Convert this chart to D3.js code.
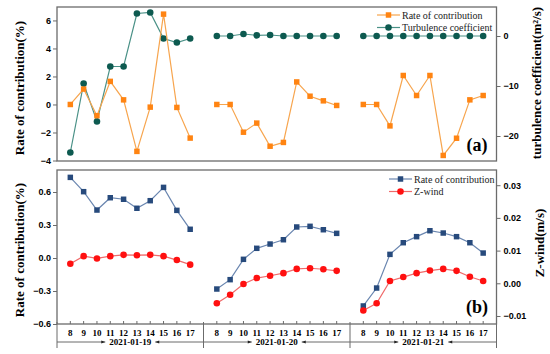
<!DOCTYPE html>
<html>
<head>
<meta charset="utf-8">
<script src="https://cdn.jsdelivr.net/npm/d3@7"></script>
<style>
  body { margin: 0; background: #fff; }
  svg { display: block; font-family: "Liberation Serif", "Times New Roman", serif; }
  .tick text { font-weight: bold; font-size: 9px; }
</style>
</head>
<body>
<svg id="chart" width="550" height="354"></svg>
<script>
// Categories
var hours = [8, 9, 10, 11, 12, 13, 14, 15, 16, 17];
var dates = ['2021-01-19', '2021-01-20', '2021-01-21'];

// Panel (a): rate of contribution (%), one array per day
var rateA19 = [0, 1.1, -0.8, 1.65, 0.33, -3.35, -0.19, 6.45, -0.21, -2.4];
var rateA20 = [0, 0, -1.98, -1.33, -2.98, -2.71, 1.61, 0.59, 0.26, -0.07];
var rateA21 = [0, 0, -1.53, 2.07, 0.64, 2.07, -3.64, -2.41, 0.33, 0.64];

// Panel (a): turbulence coefficient (m2/s)
var turb19 = [-23.3, -9.5, -17.1, -6.1, -6.1, 4.5, 4.7, -0.5, -1.3, -0.5];
var turb20 = [0, 0, 0.4, 0.13, 0.2, 0, 0, 0, 0, 0];
var turb21 = [0, 0, 0, 0, 0, 0, 0, 0, 0, 0];

// Panel (b): rate of contribution (%)
var rateB19 = [0.733, 0.603, 0.436, 0.548, 0.534, 0.452, 0.521, 0.642, 0.433, 0.261];
var rateB20 = [-0.282, -0.197, -0.012, 0.088, 0.127, 0.166, 0.282, 0.288, 0.257, 0.224];
var rateB21 = [-0.436, -0.273, 0.033, 0.139, 0.194, 0.248, 0.227, 0.194, 0.139, 0.045];

// Panel (b): Z-wind (m/s)
var zwind19 = [0.0060, 0.0083, 0.0076, 0.0083, 0.0087, 0.0086, 0.0087, 0.0083, 0.0071, 0.0057];
var zwind20 = [-0.0061, -0.0035, -0.0002, 0.0016, 0.0023, 0.0031, 0.0044, 0.0046, 0.0043, 0.0038];
var zwind21 = [-0.0083, -0.0061, 0.0007, 0.0019, 0.0031, 0.0039, 0.0044, 0.0038, 0.0020, 0.0007];

// Tick values
var ticksALeft = [-4, -2, 0, 2, 4, 6];
var ticksARight = [-20, -10, 0];
var ticksBLeft = [-0.6, -0.3, 0, 0.3, 0.6];
var ticksBRight = [-0.01, 0, 0.01, 0.02, 0.03];

var svg = d3.select('#chart');
var left = 57, right = 496.5;
var frameColor = '#6b6b6b';

// Each day takes 10 slots plus one empty slot as a gap
var slot = function(day, i) { return day * 11 + i; };
var x = d3.scaleLinear().domain([-1, 32]).range([left, right]);

// Panel geometry
var panelA = { top: 7, bottom: 161 };
var panelB = { top: 170, bottom: 324 };

var yALeft = d3.scaleLinear().domain([-4, 6.96]).range([panelA.bottom - 0.5, panelA.top]);
var yARight = d3.scaleLinear().domain([-25, 5.8]).range([panelA.bottom, panelA.top]);
var yBLeft = d3.scaleLinear().domain([-0.6, 0.8]).range([panelB.bottom, panelB.top]);
var yBRight = d3.scaleLinear().domain([-0.01245, 0.03465]).range([panelB.bottom, panelB.top]);

// Draw a frame with left/right axes
function drawFrame(p, yl, yr, tl, tr, fl, fr) {
  svg.append('rect')
    .attr('x', left).attr('y', p.top)
    .attr('width', right - left).attr('height', p.bottom - p.top)
    .attr('fill', 'none').attr('stroke', frameColor).attr('stroke-width', 1.3);

  var gl = svg.append('g').attr('transform', 'translate(' + left + ',0)')
    .call(d3.axisLeft(yl).tickValues(tl).tickFormat(d3.format(fl)).tickSize(4).tickPadding(2));
  var gr = svg.append('g').attr('transform', 'translate(' + right + ',0)')
    .call(d3.axisRight(yr).tickValues(tr).tickFormat(d3.format(fr)).tickSize(4).tickPadding(3));
  [gl, gr].forEach(function(g) {
    g.select('.domain').remove();
    g.selectAll('.tick line').attr('stroke', frameColor);
  });
}

drawFrame(panelA, yALeft, yARight, ticksALeft, ticksARight, 'd', 'd');
drawFrame(panelB, yBLeft, yBRight, ticksBLeft, ticksBRight, '.1f', '.2f');

// Draw one series split by day
function drawSeries(days, y, lineColor, markColor, shape) {
  days.forEach(function(vals, day) {
    var pts = vals.map(function(v, i) { return [x(slot(day, i)), y(v)]; });
    svg.append('path')
      .attr('d', d3.line()(pts))
      .attr('fill', 'none').attr('stroke', lineColor).attr('stroke-width', 1.2);
    var sym = d3.symbol().type(shape === 'square' ? d3.symbolSquare : d3.symbolCircle)
      .size(shape === 'square' ? 30 : 34);
    svg.append('g').selectAll('path').data(pts).enter().append('path')
      .attr('transform', function(d) { return 'translate(' + d[0] + ',' + d[1] + ')'; })
      .attr('d', sym).attr('fill', markColor);
  });
}

var orange = { line: '#f7a54e', mark: '#ff8412' };
var teal = { line: '#4a9187', mark: '#0d5a50' };
var blue = { line: '#6a86b0', mark: '#274a7c' };
var red = { line: '#f06a6a', mark: '#ff1010' };

drawSeries([turb19, turb20, turb21], yARight, teal.line, teal.mark, 'circle');
drawSeries([rateA19, rateA20, rateA21], yALeft, orange.line, orange.mark, 'square');
drawSeries([rateB19, rateB20, rateB21], yBLeft, blue.line, blue.mark, 'square');
drawSeries([zwind19, zwind20, zwind21], yBRight, red.line, red.mark, 'circle');

// Legends
function drawLegend(x0, y0, items) {
  items.forEach(function(it, i) {
    var yy = y0 + i * 12.5;
    svg.append('line')
      .attr('x1', x0).attr('x2', x0 + 23).attr('y1', yy).attr('y2', yy)
      .attr('stroke', it.c.line).attr('stroke-width', 1.2);
    svg.append('path')
      .attr('transform', 'translate(' + (x0 + 11.5) + ',' + yy + ')')
      .attr('d', d3.symbol().type(it.shape === 'square' ? d3.symbolSquare : d3.symbolCircle)
        .size(it.shape === 'square' ? 30 : 34))
      .attr('fill', it.c.mark);
    svg.append('text')
      .attr('x', x0 + 25).attr('y', yy).attr('dy', '0.35em')
      .attr('font-size', 10).attr('fill', '#222')
      .text(it.label);
  });
}

drawLegend(377, 15, [
  { label: 'Rate of contribution', c: orange, shape: 'square' },
  { label: 'Turbulence coefficient', c: teal, shape: 'circle' }
]);
drawLegend(389, 179, [
  { label: 'Rate of contribution', c: blue, shape: 'square' },
  { label: 'Z-wind', c: red, shape: 'circle' }
]);

// Panel letters
svg.append('text').attr('x', 477).attr('y', 151).attr('text-anchor', 'middle')
  .attr('font-size', 18).attr('font-weight', 'bold').text('(a)');
svg.append('text').attr('x', 477).attr('y', 313).attr('text-anchor', 'middle')
  .attr('font-size', 18).attr('font-weight', 'bold').text('(b)');

// Axis titles
function vTitle(cx, cy, txt) {
  svg.append('text')
    .attr('transform', 'translate(' + cx + ',' + cy + ') rotate(-90)')
    .attr('text-anchor', 'middle').attr('dy', '0.35em')
    .attr('font-size', 13).attr('font-weight', 'bold')
    .text(txt);
}
vTitle(19, 88, 'Rate of contribution(%)');
vTitle(19, 250, 'Rate of contribution(%)');
vTitle(536, 83, 'turbulence coefficient(m\u00b2/s)');
vTitle(539, 243, 'Z-wind(m/s)');

// Bottom category axis (hours grouped by date)
var xb = svg.append('g');
dates.forEach(function(date, day) {
  hours.forEach(function(h, i) {
    var xx = x(slot(day, i));
    xb.append('line')
      .attr('x1', xx).attr('x2', xx).attr('y1', panelB.bottom - 3).attr('y2', panelB.bottom)
      .attr('stroke', frameColor);
    xb.append('text')
      .attr('x', xx).attr('y', panelB.bottom + 9).attr('dy', '0.35em')
      .attr('text-anchor', 'middle').attr('font-size', 9).attr('font-weight', 'bold')
      .text(h);
  });

  // Date bracket with inward arrows
  var x0 = x(slot(day, -1)), x1 = x(slot(day, 10));
  var cx = (x0 + x1) / 2, yy = 342, half = 25;
  xb.append('text')
    .attr('x', cx).attr('y', yy).attr('dy', '0.3em')
    .attr('text-anchor', 'middle').attr('font-size', 9).attr('font-weight', 'bold')
    .text(date);
  [[x0, cx - half, 1], [x1, cx + half, -1]].forEach(function(s) {
    xb.append('line')
      .attr('x1', s[0]).attr('x2', s[1]).attr('y1', yy).attr('y2', yy)
      .attr('stroke', '#444').attr('stroke-width', 0.8);
    xb.append('path')
      .attr('d', 'M' + s[1] + ',' + yy + 'l' + (-4 * s[2]) + ',-1.6l0,3.2z')
      .attr('fill', '#222');
  });
});

// Day separators
[-1, 10, 21, 32].forEach(function(s) {
  svg.append('line')
    .attr('x1', x(s)).attr('x2', x(s))
    .attr('y1', panelB.bottom - 2).attr('y2', 348)
    .attr('stroke', frameColor).attr('stroke-width', 1);
});
</script>
</body>
</html>
